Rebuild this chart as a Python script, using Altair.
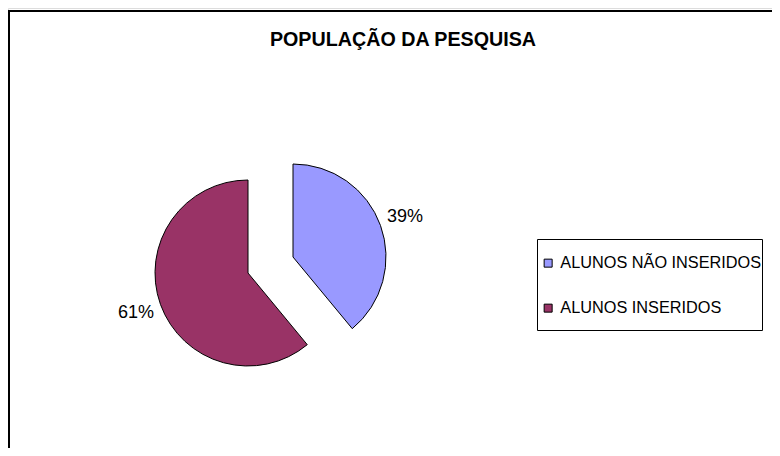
import altair as alt
import pandas as pd

titulo = ["POPULAÇÃO DA PESQUISA"]
categorias = ["ALUNOS NÃO INSERIDOS", "ALUNOS INSERIDOS"]
valores = [39, 61]
rotulos = ["39%", "61%"]
cores = ["#9999FF", "#993366"]
ordem = [0, 1]

df = pd.DataFrame({"categoria": categorias, "valor": valores,
                   "rotulo": rotulos, "ordem": ordem})

FONT = "Liberation Sans"
W, H = 764, 440
R = 93
RL = 119
centros = {categorias[0]: (285, 249), categorias[1]: (240, 265)}

base = alt.Chart(df).transform_stack(
    stack="valor", as_=["ini", "fim"], groupby=[],
    sort=[alt.SortField("ordem", order="ascending")]
).transform_calculate(meio="(datum.ini + datum.fim) / 2")

cor = alt.Color("categoria:N",
                scale=alt.Scale(domain=categorias, range=cores),
                legend=alt.Legend(title=None, orient="none", legendX=532, legendY=247,
                                  symbolType="square", symbolSize=64,
                                  symbolStrokeColor="black", symbolStrokeWidth=1,
                                  labelFont=FONT, labelFontSize=16.3, labelColor="black",
                                  labelOffset=4, rowPadding=28, padding=0,
                                  labelLimit=300))

layers = []
for cat in categorias:
    cx, cy = centros[cat]
    sub = base.transform_filter(alt.datum.categoria == cat)
    arc = sub.mark_arc(radius=R, stroke="black", strokeWidth=1).encode(
        theta=alt.Theta("ini:Q", scale=alt.Scale(domain=[0, 100])),
        theta2="fim:Q",
        color=cor,
        x=alt.value(cx), y=alt.value(cy),
    )
    txt = sub.mark_text(radius=RL, font=FONT, fontSize=18, color="black",
                        align="center", baseline="middle").encode(
        theta=alt.Theta("meio:Q", scale=alt.Scale(domain=[0, 100]), stack=None),
        text="rotulo:N",
        x=alt.value(cx), y=alt.value(cy),
    )
    layers += [arc, txt]

um = pd.DataFrame({"t": titulo})
caixa = alt.Chart(um).mark_rect(fill="white", stroke="black", strokeWidth=1).encode(
    x=alt.value(529.5), x2=alt.value(754.5), y=alt.value(231.5), y2=alt.value(322.5))
borda_v = alt.Chart(um).mark_rule(color="black", strokeWidth=2).encode(
    x=alt.value(1), y=alt.value(2.5), y2=alt.value(H))
borda_h = alt.Chart(um).mark_rule(color="black", strokeWidth=2).encode(
    x=alt.value(0), x2=alt.value(W), y=alt.value(3))
tit = alt.Chart(um).mark_text(font=FONT, fontSize=19.7, fontWeight="bold", color="black",
                              align="center", baseline="alphabetic").encode(
    text="t:N", x=alt.value(395), y=alt.value(38))

chart = alt.layer(caixa, borda_v, borda_h, tit, *layers).properties(
    width=W, height=H, padding=0,
    autosize=alt.AutoSizeParams(type="none"),
).configure_view(stroke=None).configure(background="white")

chart.save("out.html", embed_options={"renderer": "svg", "actions": False})
